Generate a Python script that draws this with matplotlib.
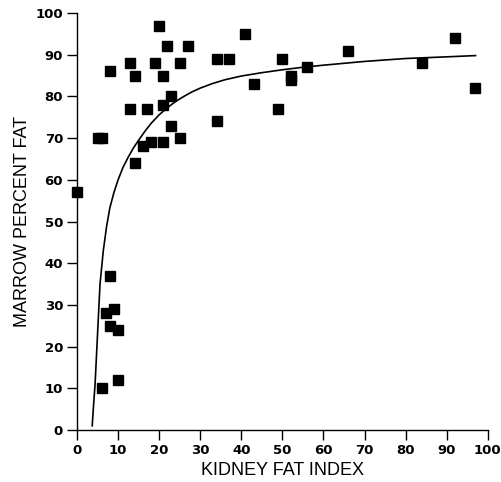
import numpy as np
import matplotlib
matplotlib.use("Agg")
import matplotlib.pyplot as plt

# kidney fat index vs marrow percent fat
kfi = [0, 5, 6, 8, 13, 14, 13, 17, 20, 22, 27, 19, 21, 25, 23, 21, 23, 25,
       21, 18, 16, 14, 34, 37, 41, 43, 34, 49, 50, 52, 52, 56, 66, 84, 92, 97,
       8, 7, 9, 8, 10, 6, 10]
marrow = [57, 70, 70, 86, 88, 85, 77, 77, 97, 92, 92, 88, 85, 88, 80, 78, 73, 70,
          69, 69, 68, 64, 89, 89, 95, 83, 74, 77, 89, 85, 84, 87, 91, 88, 94, 82,
          37, 28, 29, 25, 24, 10, 12]

# fitted curve
curve_x = [3.7, 4.0, 4.4, 5.0, 5.6, 6.4, 7.2, 8.0, 9.0, 10.0, 11.2, 12.5, 13.7,
           15, 16.5, 18, 20, 22, 24, 26, 28, 30, 33, 36, 40, 45, 50, 55, 60,
           70, 80, 90, 97]
curve_y = [1, 5.5, 11, 23, 35, 43, 48.8, 53.3, 57, 60, 63, 65.5, 67.6,
           69.5, 71.6, 73.5, 75.6, 77.3, 78.8, 80, 81.1, 82, 83.1, 84, 84.9, 85.7, 86.4, 87.0, 87.5,
           88.4, 89.1, 89.5, 89.8]

fig = plt.figure(figsize=(5.01, 4.82), dpi=100)
ax = fig.add_axes([0.1537, 0.1079, 0.820, 0.865])

ax.plot(curve_x, curve_y, color="black", lw=1.2)
ax.plot(kfi, marrow, "s", color="black", ms=6.5, clip_on=False)

ax.set_xlim(0, 100)
ax.set_ylim(0, 100)
ax.set_xticks(np.arange(0, 101, 10))
ax.set_yticks(np.arange(0, 101, 10))
for s in ["top", "right"]:
    ax.spines[s].set_visible(False)
for s in ["left", "bottom"]:
    ax.spines[s].set_linewidth(1.0)
ax.tick_params(length=7, width=1.0, pad=3, labelsize=9.5)
for lab in ax.get_xticklabels() + ax.get_yticklabels():
    lab.set_family("DejaVu Sans")
    lab.set_fontweight("bold")

ax.set_xlabel("KIDNEY FAT INDEX", family="Liberation Sans", fontsize=13, labelpad=4)
ax.set_ylabel("MARROW PERCENT FAT", family="Liberation Sans", fontsize=13, labelpad=3)

fig.savefig("out.png", dpi=100)
